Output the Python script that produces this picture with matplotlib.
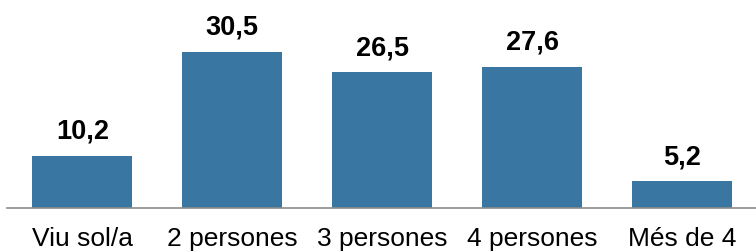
import matplotlib
matplotlib.use("Agg")
import matplotlib.pyplot as plt

categories = ["Viu sol/a", "2 persones", "3 persones", "4 persones", "Més de 4"]
values = [10.2, 30.5, 26.5, 27.6, 5.2]
labels = ["10,2", "30,5", "26,5", "27,6", "5,2"]

plt.rcParams['font.family'] = ['Liberation Sans', 'DejaVu Sans']

fig = plt.figure(figsize=(7.56, 2.52), dpi=100)
ax = fig.add_axes([7.3/756, 44/252, 750/756, 208/252])

x = list(range(len(categories)))
bars = ax.bar(x, values, width=0.667, color='#3A76A2')
for xi, v, lab in zip(x, values, labels):
    ax.annotate(lab, (xi, v), xytext=(0, 12.3), textcoords='offset points',
                ha='center', va='baseline', fontsize=19.5, fontweight='bold', color='black')

ax.set_xlim(-0.5, 4.5)
ax.set_ylim(0, 40.6)
ax.set_xticks(x)
ax.set_xticklabels(categories, fontsize=19)
ax.tick_params(axis='x', length=0, pad=13.5)
ax.set_yticks([])
for s in ['top', 'right', 'left']:
    ax.spines[s].set_visible(False)
ax.spines['bottom'].set_color('#8c8c8c')
ax.spines['bottom'].set_linewidth(1.2)

fig.savefig("out.png", dpi=100)
